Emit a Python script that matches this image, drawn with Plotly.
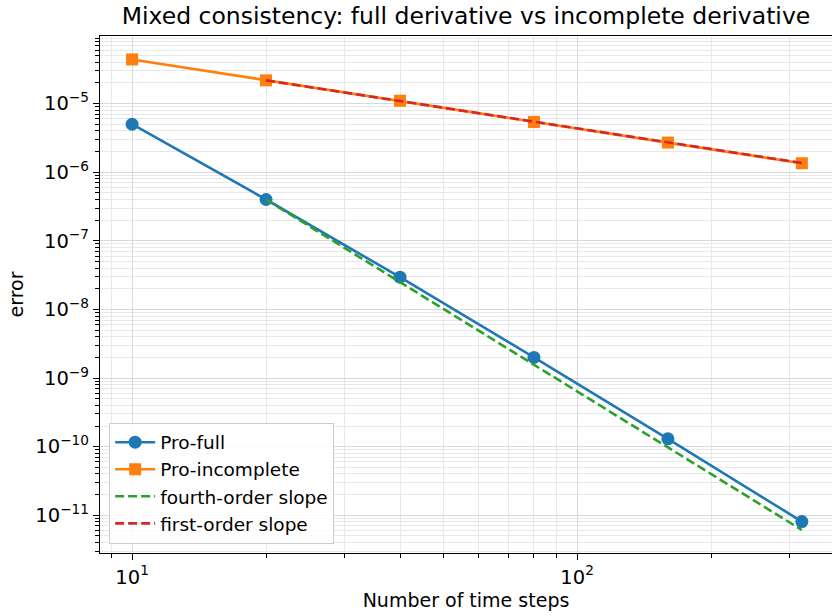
import plotly.graph_objects as go
import numpy as np

steps = [10, 20, 40, 80, 160, 320]
pro_full = [5.0e-6, 4.0e-7, 2.95e-8, 2.0e-9, 1.3e-10, 8.1e-12]
pro_incomplete = [4.4e-5, 2.18e-5, 1.1e-5, 5.4e-6, 2.7e-6, 1.35e-6]
slope_steps = [20, 40, 80, 160, 320]
fourth_order = [4.0e-7, 2.5e-8, 1.56e-9, 9.77e-11, 6.1e-12]
first_order = [2.18e-5, 1.09e-5, 5.45e-6, 2.73e-6, 1.36e-6]

blue = "#1f77b4"
orange = "#ff7f0e"
green = "#2ca02c"
red = "#d62728"

fig = go.Figure()
fig.add_trace(go.Scatter(x=steps, y=pro_full, name="Pro-full", mode="lines+markers",
                         line=dict(color=blue, width=2.6),
                         marker=dict(symbol="circle", size=13, color=blue)))
fig.add_trace(go.Scatter(x=steps, y=pro_incomplete, name="Pro-incomplete", mode="lines+markers",
                         line=dict(color=orange, width=2.6),
                         marker=dict(symbol="square", size=12, color=orange)))
fig.add_trace(go.Scatter(x=slope_steps, y=fourth_order, name="fourth-order slope", mode="lines",
                         line=dict(color=green, width=2.6, dash="9px,4px")))
fig.add_trace(go.Scatter(x=slope_steps, y=first_order, name="first-order slope", mode="lines",
                         line=dict(color=red, width=2.6, dash="9px,4px")))

def minor_vals(lo, hi):
    out = []
    for e in range(lo, hi + 1):
        for m in range(2, 10):
            out.append(m * 10.0 ** e)
    return out

y_major = [10.0 ** e for e in range(-11, -4)]
y_text = ["10<sup>\u2212%d</sup>" % (-e) for e in range(-11, -4)]
x_major = [10, 100]
x_text = ["10<sup>1</sup>", "10<sup>2</sup>"]

font = "DejaVu Sans"
fig.update_layout(
    width=832, height=616,
    margin=dict(l=100, r=0, t=36, b=63, autoexpand=False),
    paper_bgcolor="white", plot_bgcolor="white",
    font=dict(family=font, size=19, color="black"),
    title=dict(text="Mixed consistency: full derivative vs incomplete derivative",
               x=0.5, xanchor="center", xref="paper", y=0.974, yanchor="middle",
               font=dict(size=23.5, family=font, color="black")),
    showlegend=True,
    legend=dict(x=0.0125, y=0.018, xanchor="left", yanchor="bottom",
                bgcolor="rgba(255,255,255,0.85)", bordercolor="#cccccc", borderwidth=1,
                font=dict(size=18.5, family=font), tracegroupgap=0, itemwidth=40),
)
fig.update_xaxes(type="log", range=[np.log10(8.47), np.log10(374)], automargin=False,
                 tickmode="array", tickvals=x_major, ticktext=x_text,
                 ticks="outside", ticklen=6, tickwidth=1.2, tickcolor="black",
                 showline=True, linecolor="black", linewidth=1.3, mirror=True,
                 showgrid=True, gridcolor="#d9d9d9", gridwidth=1.2, zeroline=False,
                 minor=dict(tickmode="array", tickvals=minor_vals(0, 2), ticks="outside",
                            ticklen=3.5, tickcolor="black", showgrid=True,
                            gridcolor="#e8e8e8", gridwidth=1),
                 title=dict(text="Number of time steps", font=dict(size=19, family=font), standoff=3),
                 tickfont=dict(size=19.5, family=font))
fig.update_yaxes(type="log", range=[-11.55, -4.015], automargin=False,
                 tickmode="array", tickvals=y_major, ticktext=y_text,
                 ticks="outside", ticklen=6, tickwidth=1.2, tickcolor="black",
                 showline=True, linecolor="black", linewidth=1.3, mirror=False,
                 showgrid=True, gridcolor="#d9d9d9", gridwidth=1.2, zeroline=False,
                 minor=dict(tickmode="array", tickvals=minor_vals(-12, -5), ticks="outside",
                            ticklen=3.5, tickcolor="black", showgrid=True,
                            gridcolor="#e8e8e8", gridwidth=1),
                 title=dict(text="error", font=dict(size=19, family=font), standoff=6),
                 tickfont=dict(size=19.5, family=font))

fig.write_html("out.html", config={"displayModeBar": False},
               post_script="document.body.style.margin='0';document.body.style.padding='0';")
